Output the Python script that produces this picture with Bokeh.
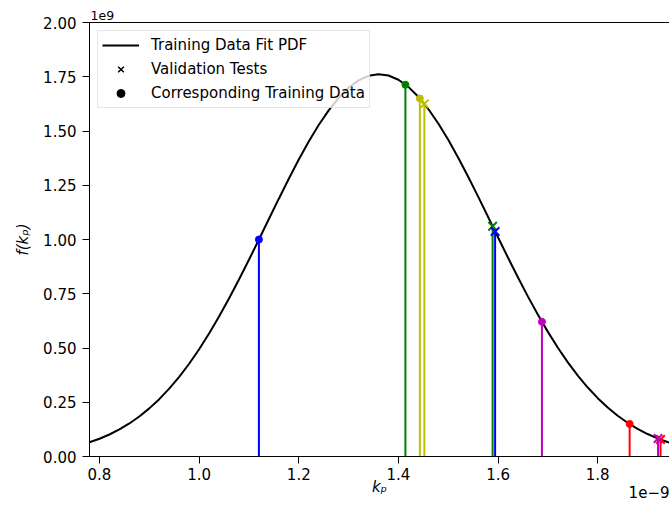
from bokeh.plotting import figure
from bokeh.models import (ColumnDataSource, Range1d, FixedTicker, PrintfTickFormatter,
                          LinearAxis, Legend, LegendItem, Title)
from bokeh.embed import file_html
from bokeh.resources import INLINE

# k_p is given in units of 1e-9, f(k_p) in units of 1e9
curve_kp = [0.78, 0.80, 0.82, 0.84, 0.86, 0.88, 0.90, 0.92, 0.94, 0.96,
            0.98, 1.00, 1.02, 1.04, 1.06, 1.08, 1.10, 1.12, 1.14, 1.16,
            1.18, 1.20, 1.22, 1.24, 1.26, 1.28, 1.30, 1.32, 1.34, 1.36,
            1.38, 1.40, 1.42, 1.44, 1.46, 1.48, 1.50, 1.52, 1.54, 1.56,
            1.58, 1.60, 1.62, 1.64, 1.66, 1.68, 1.70, 1.72, 1.74, 1.76,
            1.78, 1.80, 1.82, 1.84, 1.86, 1.88, 1.90, 1.92, 1.94, 1.96]
curve_f = [0.0654, 0.0818, 0.1014, 0.1247, 0.1523, 0.1845, 0.2217, 0.2643, 0.3127, 0.3671,
           0.4275, 0.4942, 0.5667, 0.6448, 0.7281, 0.8156, 0.9066, 0.9998, 1.0942, 1.1881,
           1.2801, 1.3684, 1.4514, 1.5275, 1.5951, 1.6528, 1.6992, 1.7334, 1.7544, 1.7620,
           1.7558, 1.7360, 1.7032, 1.6579, 1.6013, 1.5347, 1.4593, 1.3770, 1.2891, 1.1974,
           1.1036, 1.0093, 0.9158, 0.8246, 0.7367, 0.6530, 0.5743, 0.5012, 0.4339, 0.3728,
           0.3178, 0.2689, 0.2257, 0.1879, 0.1553, 0.1273, 0.1036, 0.0836, 0.0669, 0.0532]

test_colors = ["#008000", "#0000ff", "#bfbf00", "#ff0000", "#bf00bf"]
train_kp = [1.414, 1.120, 1.443, 1.864, 1.688]
train_f = [1.713, 1.000, 1.650, 0.150, 0.621]
valid_kp = [1.589, 1.594, 1.452, 1.926, 1.921]
valid_f = [1.061, 1.037, 1.625, 0.078, 0.083]

x_ticks = [0.8, 1.0, 1.2, 1.4, 1.6, 1.8]
y_ticks = [0.0, 0.25, 0.5, 0.75, 1.0, 1.25, 1.5, 1.75, 2.0]

X0, X1 = 0.78, 1.944
Y0, Y1 = 0.0, 2.0
FONT = "DejaVu Sans"

p = figure(width=669, height=509, output_backend="svg", toolbar_location=None,
           x_range=Range1d(X0, X1), y_range=Range1d(Y0, Y1),
           min_border_left=89, min_border_right=0, min_border_top=22,
           min_border_bottom=53)
p.outline_line_color = None
p.grid.visible = False
p.background_fill_color = "white"
p.border_fill_color = "white"

for ax, ticks, fmt, standoff in ((p.xaxis[0], x_ticks, "%.1f", 4), (p.yaxis[0], y_ticks, "%.2f", 6)):
    ax.ticker = FixedTicker(ticks=ticks)
    ax.formatter = PrintfTickFormatter(format=fmt)
    ax.major_tick_out = 7
    ax.major_tick_in = 0
    ax.minor_tick_line_color = None
    ax.major_label_standoff = standoff
    ax.major_label_text_font = FONT
    ax.major_label_text_font_size = "15px"
    ax.major_label_text_color = "black"
    ax.axis_line_color = "black"
    ax.major_tick_line_color = "black"
    ax.axis_label_text_font = FONT
    ax.axis_label_text_font_size = "15px"
    ax.axis_label_text_font_style = "italic"
    ax.axis_label_text_color = "black"

p.xaxis.axis_label = "k\u209a"
p.xaxis.axis_label_standoff = -5
p.yaxis.axis_label = "f(k\u209a)"
p.yaxis.axis_label_standoff = 8

# top spine
top = LinearAxis(ticker=FixedTicker(ticks=[]), major_tick_line_color=None,
                 minor_tick_line_color=None, major_label_text_font_size="0px",
                 axis_line_color="black")
p.add_layout(top, "above")

# scale offsets of both axes
p.add_layout(Title(text="1e9", align="left", offset=1, standoff=6,
                   text_font=FONT, text_font_size="12.5px", text_font_style="normal",
                   text_color="black"), "above")
p.add_layout(Title(text="1e\u22129", align="right", offset=0, standoff=-25, vertical_align="top",
                   text_font=FONT, text_font_size="15px", text_font_style="normal",
                   text_color="black"), "below")

# fitted PDF
curve = p.line(curve_kp, curve_f, line_color="black", line_width=2)

# stems and markers for every test pair
for i, c in enumerate(test_colors):
    src_t = ColumnDataSource(dict(x=[train_kp[i]], y=[train_f[i]], y0=[0.0]))
    src_v = ColumnDataSource(dict(x=[valid_kp[i]], y=[valid_f[i]], y0=[0.0]))
    p.segment(x0="x", y0="y0", x1="x", y1="y", source=src_t, line_color=c, line_width=2)
    p.scatter("x", "y", source=src_t, marker="circle", size=7, fill_color=c, line_color=c)
    p.segment(x0="x", y0="y0", x1="x", y1="y", source=src_v, line_color=c, line_width=2)
    p.scatter("x", "y", source=src_v, marker="x", size=12, line_color=c, line_width=2)

# black legend proxies (no visible points)
nan = float("nan")
proxy = ColumnDataSource(dict(x=[nan], y=[nan]))
leg_x = p.scatter("x", "y", source=proxy, marker="x", size=13, line_color="black", line_width=1.5)
leg_dot = p.scatter("x", "y", source=proxy, marker="circle", size=6, fill_color="black", line_color="black")

legend = Legend(items=[LegendItem(label="Training Data Fit PDF", renderers=[curve]),
                       LegendItem(label="Validation Tests", renderers=[leg_x]),
                       LegendItem(label="Corresponding Training Data", renderers=[leg_dot])],
                location="top_left", margin=8, padding=4, spacing=4,
                glyph_width=37, glyph_height=20, label_height=20, label_standoff=12,
                label_text_font=FONT, label_text_font_size="15px", label_text_color="black",
                border_line_color="#cccccc", border_line_width=1,
                background_fill_color="white", background_fill_alpha=0.8)
p.add_layout(legend, "center")

open("out.html", "w").write(file_html(p, INLINE))
